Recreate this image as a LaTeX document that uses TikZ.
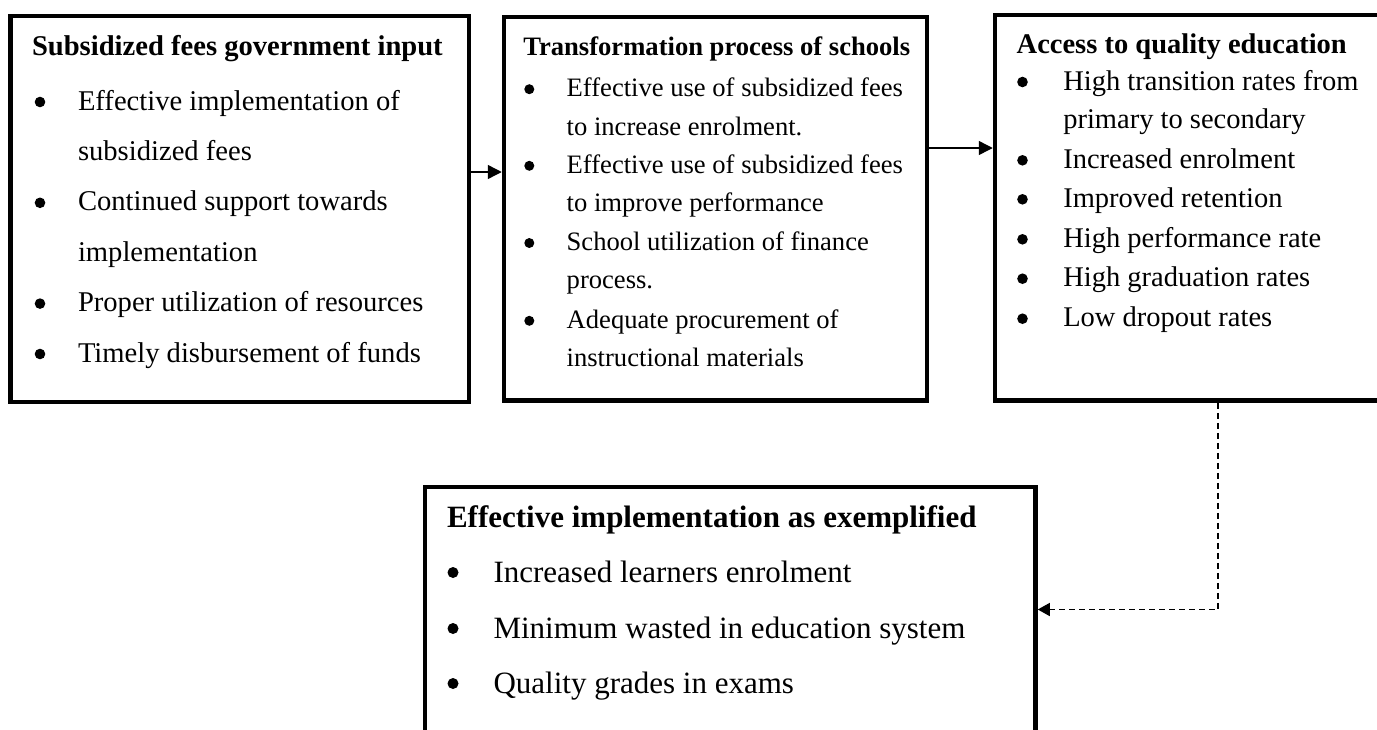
\documentclass[tikz,border=0pt]{standalone}
\usepackage{fontspec}
\setmainfont{Liberation Serif}
\usetikzlibrary{arrows.meta}

\tikzset{
  box/.style={draw, line width=4.5pt, inner sep=0pt, outer sep=0.5\pgflinewidth},
  ln/.style={anchor=base west, inner sep=0pt, outer sep=0pt},
  ta/.style={ln, font=\fontsize{28.6}{34}\selectfont},
  tb/.style={ln, font=\fontsize{26.6}{32}\selectfont},
  tc/.style={ln, font=\fontsize{28.5}{34}\selectfont},
  td/.style={ln, font=\fontsize{31}{37}\selectfont},
  conn/.style={line width=1.4pt, -{Triangle[length=14pt,width=14pt]}},
  dconn/.style={line width=1.3pt, dash pattern=on 6pt off 4pt,
    -{Triangle[length=12pt,width=13pt]}},
  bul/.style={fill=black}
}

\begin{document}
\begin{tikzpicture}[x=1pt, y=-1pt]
\useasboundingbox (0,0) rectangle (1377,729);
\clip (0,0) rectangle (1377,729);

% frames
\node[box, minimum width=458.5pt, minimum height=386pt] (inp) at (239.75,209) {};
\node[box, minimum width=423pt, minimum height=383.5pt] (proc) at (715.5,208.75) {};
\node[box, minimum width=390pt, minimum height=385.5pt] (acc) at (1190,207.75) {};
\node[box, minimum width=610.5pt, minimum height=253pt] (impl) at (730.25,613.5) {};

% input box
\node[ta] (inp-h) at (32,55) {\bfseries Subsidized fees government input};
\node[ta] (inp-1) at (78,110) {Effective implementation of};
\node[ta] (inp-2) at (78,160.4) {subsidized fees};
\node[ta] (inp-3) at (78,210.8) {Continued support towards};
\node[ta] (inp-4) at (78,261.2) {implementation};
\node[ta] (inp-5) at (78,311.6) {Proper utilization of resources};
\node[ta] (inp-6) at (78,362) {Timely disbursement of funds};
\foreach \yy in {110,210.8,311.6,362}
  \fill[bul] (40,\yy-8) circle[radius=5.3pt];

% process box
\node[tb] (proc-h) at (523.3,55) {\bfseries Transformation process of schools};
\node[tb] (proc-1) at (566.7,96.7) {Effective use of subsidized fees};
\node[tb] (proc-2) at (566.7,135) {to increase enrolment.};
\node[tb] (proc-3) at (566.7,173.3) {Effective use of subsidized fees};
\node[tb] (proc-4) at (566.7,211.7) {to improve performance};
\node[tb] (proc-5) at (566.7,250.5) {School utilization of finance};
\node[tb] (proc-6) at (566.7,288.5) {process.};
\node[tb] (proc-7) at (566.7,328.3) {Adequate procurement of};
\node[tb] (proc-8) at (566.7,366.7) {instructional materials};
\foreach \yy in {96.7,173.3,250.5,328.3}
  \fill[bul] (529.3,\yy-7.5) circle[radius=5pt];

% access box
\node[tc] (acc-h) at (1016.7,53.3) {\bfseries Access to quality education};
\node[tc] (acc-1) at (1063.3,90) {High transition rates from};
\node[tc] (acc-2) at (1063.3,128.3) {primary to secondary};
\node[tc] (acc-3) at (1063.3,168.3) {Increased enrolment};
\node[tc] (acc-4) at (1063.3,207.3) {Improved retention};
\node[tc] (acc-5) at (1063.3,247.3) {High performance rate};
\node[tc] (acc-6) at (1063.3,286.7) {High graduation rates};
\node[tc] (acc-7) at (1063.3,326.7) {Low dropout rates};
\foreach \yy in {90,168.3,207.3,247.3,286.7,326.7}
  \fill[bul] (1022.5,\yy-8) circle[radius=5.3pt];

% implementation box
\node[td] (impl-h) at (447,527) {\bfseries Effective implementation as exemplified};
\node[td] (impl-1) at (493.5,582) {Increased learners enrolment};
\node[td] (impl-2) at (493.5,638) {Minimum wasted in education system};
\node[td] (impl-3) at (493.5,693) {Quality grades in exams};
\foreach \yy in {582,638,693}
  \fill[bul] (453,\yy-9.5) circle[radius=5.5pt];

% connectors
\coordinate (r1) at (0,172);
\coordinate (r2) at (0,148);
\coordinate (bend) at (1218,609.5);
\draw[conn] (inp.east |- r1) -- (proc.west |- r1);
\draw[conn] (proc.east |- r2) -- (acc.west |- r2);
\draw[dconn] (acc.south -| bend) -- (bend) -- (impl.east |- bend);
\end{tikzpicture}
\end{document}
